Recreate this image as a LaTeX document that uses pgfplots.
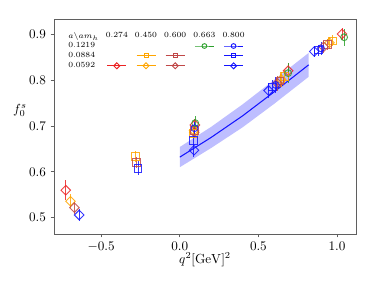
\documentclass[border=0pt]{standalone}
\usepackage{pgfplots}
\usepackage{pgfplotstable}
\pgfplotsset{compat=1.18}
\definecolor{cred}{RGB}{235,35,35}
\definecolor{corange}{RGB}{255,165,0}
\definecolor{cbrown}{RGB}{192,72,72}
\definecolor{cgreen}{RGB}{44,160,44}
\definecolor{cblue}{RGB}{20,20,255}
\definecolor{axgray}{RGB}{95,95,95}
\newcommand\legfont{\fontsize{6}{7}\selectfont}

\pgfplotstableread{
x y e
-0.725 0.560 0.022
0.096 0.702 0.014
0.689 0.820 0.018
1.032 0.900 0.014
}\redD
\pgfplotstableread{
x y e
-0.695 0.536 0.015
0.090 0.690 0.013
0.645 0.801 0.016
0.952 0.881 0.013
}\orD
\pgfplotstableread{
x y e
-0.670 0.522 0.013
0.092 0.686 0.013
0.621 0.793 0.016
0.915 0.872 0.013
}\brD
\pgfplotstableread{
x y e
-0.640 0.506 0.013
0.090 0.647 0.014
0.565 0.777 0.016
0.855 0.862 0.013
}\blD
\pgfplotstableread{
x y e
-0.282 0.634 0.012
0.088 0.684 0.012
0.664 0.807 0.014
0.972 0.885 0.012
}\orS
\pgfplotstableread{
x y e
-0.275 0.621 0.012
0.093 0.690 0.012
0.638 0.798 0.014
0.940 0.878 0.012
}\brS
\pgfplotstableread{
x y e
-0.265 0.608 0.015
0.086 0.668 0.013
0.589 0.785 0.015
0.881 0.865 0.012
}\blS
\pgfplotstableread{
x y e
0.098 0.706 0.016
0.689 0.815 0.022
1.045 0.893 0.018
}\grC
\pgfplotstableread{
x y e
0.094 0.695 0.014
0.611 0.789 0.018
0.898 0.869 0.014
}\blC

\pgfplotsset{
  ser/.style={only marks, opacity=0.85, forget plot,
    error bars/y dir=both, error bars/y explicit, error bars/error mark=none,
    error bars/error bar style={line width=0.7bp, solid}},
  dia/.style={mark=square, mark size=2.55bp, mark options={solid, line width=0.7bp, fill=none, rotate=45}},
  sq/.style={mark=square, mark size=2.9bp, mark options={solid, line width=0.7bp, fill=none}},
  cir/.style={mark=o, mark size=2.6bp, mark options={solid, line width=0.7bp, fill=none}},
  ldia/.style={mark=square, mark size=1.6bp, line width=0.7bp, mark options={solid, fill=none, rotate=45}},
  lsq/.style={mark=square, mark size=1.5bp, line width=0.7bp, mark options={solid, fill=none}},
  lcir/.style={mark=o, mark size=1.8bp, line width=0.7bp, mark options={solid, fill=none}},
  samp/.style={legend image code/.code={\draw[mark repeat=2,mark phase=2,##1] plot coordinates {(0bp,0bp) (7.2bp,0bp) (14.4bp,0bp)}; \path (0,-3.4bp) (0,3.4bp);}},
  hdr/.style={legend image code/.code={\node[inner sep=0pt,font=\legfont] at (7.2bp,0) {#1}; \path (0,-3.4bp) (14.4bp,3.4bp);}},
  lab/.style={legend image code/.code={\node[inner sep=0pt,anchor=west,font=\legfont] at (0,0) {#1}; \path (0,-3.4bp) (0,3.4bp);}},
  emp/.style={legend image code/.code={\path (0,-3.4bp) (14.4bp,3.4bp);}},
}

\begin{document}
\begin{tikzpicture}
\begin{axis}[
  at={(0,0)}, anchor=south west, scale only axis,
  width=228.8bp, height=162.9bp,
  xmin=-0.80, xmax=1.121, ymin=0.4645, ymax=0.9327,
  xtick={-0.5,0,0.5,1}, ytick={0.5,0.6,0.7,0.8,0.9},
  xticklabel style={/pgf/number format/.cd, fixed, fixed zerofill, precision=1},
  yticklabel style={/pgf/number format/.cd, fixed, fixed zerofill, precision=1},
  tick align=outside, tick pos=left,
  major tick length=2.6bp,
  every tick/.style={axgray, line width=0.5bp},
  axis line style={axgray, line width=0.6bp},
  xlabel={$q^2[\mathrm{GeV}]^2$},
  ylabel={$f_0^s$},
  every axis x label/.style={at={(axis description cs:0.5,0)}, anchor=north, inner sep=0pt, yshift=-14bp},
  every axis y label/.style={at={(axis description cs:0,0.575)}, anchor=east, inner sep=0pt, xshift=-20.5bp},
  legend columns=6,
  legend style={at={(0,1)}, anchor=north west, xshift=10.6bp, yshift=-9.5bp,
    draw=none, fill=none, inner sep=0pt, outer sep=0pt, row sep=0pt,
    nodes={inner sep=0pt},
    /tikz/column sep=0pt,
    /tikz/every even column/.append style={column sep=4.4bp}},
]
% fit band
\addplot[draw=none, fill=cblue, fill opacity=0.28, forget plot] coordinates {
 (0,0.610) (0.2,0.652) (0.4,0.697) (0.6,0.748) (0.82,0.807)
 (0.82,0.859) (0.6,0.800) (0.4,0.747) (0.2,0.698) (0,0.654) (0,0.610)};
\addplot[cblue, line width=0.8bp, forget plot] coordinates {
 (0,0.632) (0.2,0.675) (0.4,0.722) (0.6,0.774) (0.82,0.833)};

\addplot[cred, ser, dia] table[x=x, y=y, y error=e] {\redD};
\addplot[corange, ser, dia] table[x=x, y=y, y error=e] {\orD};
\addplot[cbrown, ser, dia] table[x=x, y=y, y error=e] {\brD};
\addplot[cblue, ser, dia] table[x=x, y=y, y error=e] {\blD};
\addplot[corange, ser, sq] table[x=x, y=y, y error=e] {\orS};
\addplot[cbrown, ser, sq] table[x=x, y=y, y error=e] {\brS};
\addplot[cblue, ser, sq] table[x=x, y=y, y error=e] {\blS};
\addplot[cgreen, ser, cir] table[x=x, y=y, y error=e] {\grC};
\addplot[cblue, ser, cir] table[x=x, y=y, y error=e] {\blC};

% legend table
\addlegendimage{lab={$a\backslash am_h$}}\addlegendentry{}
\addlegendimage{hdr={0.274}}\addlegendentry{}
\addlegendimage{hdr={0.450}}\addlegendentry{}
\addlegendimage{hdr={0.600}}\addlegendentry{}
\addlegendimage{hdr={0.663}}\addlegendentry{}
\addlegendimage{hdr={0.800}}\addlegendentry{}
\addlegendimage{lab={0.1219}}\addlegendentry{}
\addlegendimage{emp}\addlegendentry{}
\addlegendimage{emp}\addlegendentry{}
\addlegendimage{emp}\addlegendentry{}
\addlegendimage{samp, cgreen, lcir}\addlegendentry{}
\addlegendimage{samp, cblue, lcir}\addlegendentry{}
\addlegendimage{lab={0.0884}}\addlegendentry{}
\addlegendimage{emp}\addlegendentry{}
\addlegendimage{samp, corange, lsq}\addlegendentry{}
\addlegendimage{samp, cbrown, lsq}\addlegendentry{}
\addlegendimage{emp}\addlegendentry{}
\addlegendimage{samp, cblue, lsq}\addlegendentry{}
\addlegendimage{lab={0.0592}}\addlegendentry{}
\addlegendimage{samp, cred, ldia}\addlegendentry{}
\addlegendimage{samp, corange, ldia}\addlegendentry{}
\addlegendimage{samp, cbrown, ldia}\addlegendentry{}
\addlegendimage{emp}\addlegendentry{}
\addlegendimage{samp, cblue, ldia}\addlegendentry{}
\end{axis}
\pgfresetboundingbox
\useasboundingbox ([shift={(-40.9bp,-40.9bp)}]current axis.south west) rectangle ([shift={(13.6bp,14.4bp)}]current axis.north east);
\end{tikzpicture}
\end{document}
